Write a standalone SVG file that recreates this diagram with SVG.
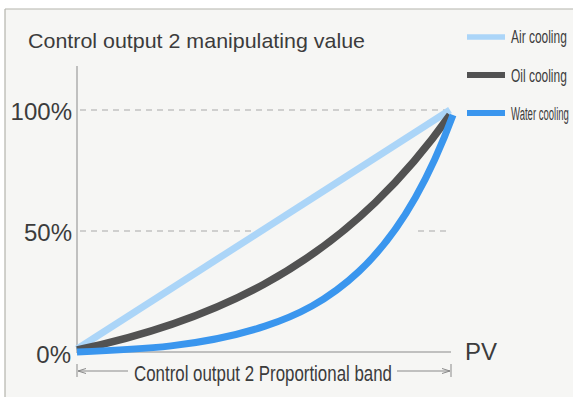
<svg xmlns="http://www.w3.org/2000/svg" width="573" height="397" viewBox="0 0 573 397">
<style>
.t{font-family:"Liberation Sans",Arial,sans-serif;fill:#3c3c3c}
.dash{stroke:#a8a8a8;stroke-width:1.2;stroke-dasharray:6 5;fill:none}
.thin{stroke:#8a8a8a;stroke-width:1;fill:none}
.air{stroke:#abd5f8;stroke-width:7;fill:none;stroke-linecap:butt}
.oil{stroke:#525252;stroke-width:7.5;fill:none;stroke-linejoin:round}
.water{stroke:#3a96ee;stroke-width:7;fill:none;stroke-linejoin:round}
</style>
<defs>
<marker id="arr" markerWidth="10" markerHeight="8" refX="9" refY="4" orient="auto-start-reverse" markerUnits="userSpaceOnUse">
<path d="M1,1.5 L9,4 L1,6.5" fill="none" stroke="#8a8a8a" stroke-width="1"/>
</marker>
</defs>
<rect x="0" y="0" width="573" height="397" fill="#ffffff"/>
<rect x="5" y="9" width="568" height="388" fill="#f6f6f4"/>
<line x1="5" y1="9" x2="573" y2="9" stroke="#b4b4ac" stroke-width="1.2"/>
<line x1="5" y1="9" x2="5" y2="397" stroke="#b4b4ac" stroke-width="1.2"/>

<g id="title">
<text class="t" x="28" y="48" font-size="21" textLength="337" lengthAdjust="spacingAndGlyphs">Control output 2 manipulating value</text>
</g>

<g id="axes">
<line class="thin" x1="77" y1="66" x2="77" y2="353"/>
<line class="thin" x1="77" y1="352" x2="451" y2="352"/>
<line class="dash" x1="80" y1="110" x2="448" y2="110"/>
<line class="dash" x1="80" y1="231" x2="252" y2="231"/>
<line class="dash" x1="418" y1="231" x2="450" y2="231"/>
<text class="t" x="72" y="120" font-size="24" text-anchor="end">100%</text>
<text class="t" x="72" y="241" font-size="24" text-anchor="end">50%</text>
<text class="t" x="71" y="363" font-size="24" text-anchor="end">0%</text>
<text class="t" x="465" y="360" font-size="24">PV</text>
</g>

<g id="band">
<line class="thin" x1="77" y1="364" x2="77" y2="377"/>
<line class="thin" x1="451" y1="364" x2="451" y2="377"/>
<line class="thin" x1="78" y1="371" x2="128" y2="371" marker-start="url(#arr)"/>
<line class="thin" x1="397" y1="371" x2="450" y2="371" marker-end="url(#arr)"/>
<text class="t" x="134" y="381" font-size="22" textLength="258" lengthAdjust="spacingAndGlyphs">Control output 2 Proportional band</text>
</g>

<g id="curves">
<path id="air" class="air" d="M77,349 L450,110"/>
<path id="oil" class="oil" d="M77,350 C139.17,336.91 201.33,318.3 263.5,284.46 C300.8,264.16 338.1,238.27 375.4,202.37 C400.27,178.44 425.13,150 450,115"/>
<path id="water" class="water" d="M77,352 C139.67,349.47 202.33,346.76 265,326.14 C296.33,315.83 327.67,300.89 359,271.42 C377.8,253.74 396.6,230.72 415.4,197.52 C427.93,175.39 440.47,148.69 453,115"/>
</g>

<g id="legend">
<line class="air" x1="467" y1="37" x2="505" y2="37" style="stroke-width:5.5"/>
<line class="oil" x1="467" y1="75" x2="505" y2="75" style="stroke-width:6"/>
<line class="water" x1="467" y1="113" x2="505" y2="113" style="stroke-width:6"/>
<text class="t" transform="translate(511,43) scale(0.665,1)" font-size="18">Air cooling</text>
<text class="t" transform="translate(511,82) scale(0.665,1)" font-size="18">Oil cooling</text>
<text class="t" transform="translate(511,120) scale(0.53,1)" font-size="18">Water cooling</text>
</g>
</svg>
